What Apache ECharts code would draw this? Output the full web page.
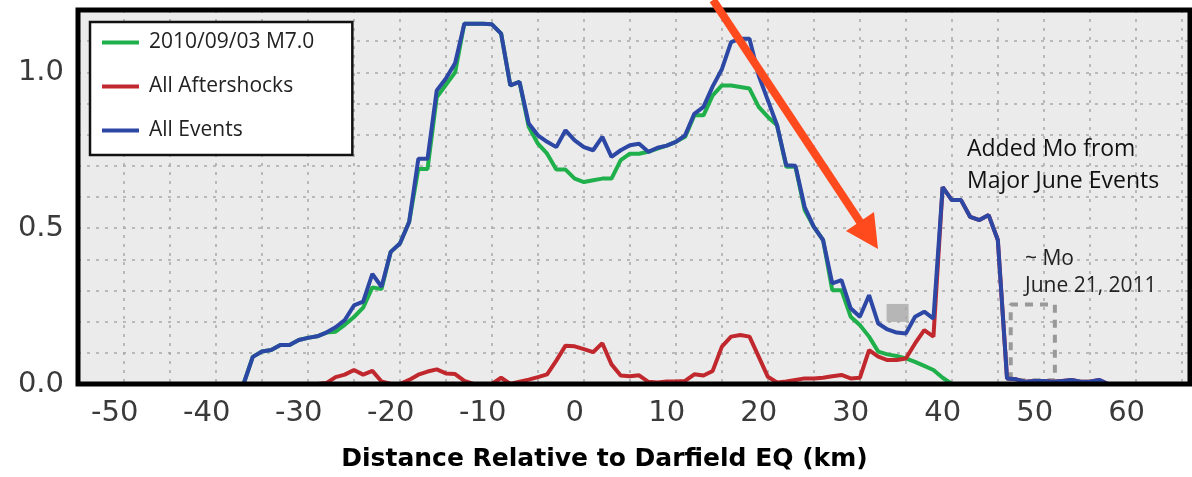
<!DOCTYPE html>
<html>
<head>
<meta charset="utf-8">
<style>
  html, body { margin: 0; padding: 0; background: #fff; }
  #chart { width: 1192px; height: 477px; }
</style>
<script src="https://cdn.jsdelivr.net/npm/echarts@6/dist/echarts.min.js"></script>
</head>
<body>
<div id="chart"></div>
<script>
// distance along strike (km), 1 km steps
var distance = [-40,-39,-38,-37,-36,-35,-34,-33,-32,-31,-30,-29,-28,-27,-26,-25,-24,-23,-22,-21,
  -20,-19,-18,-17,-16,-15,-14,-13,-12,-11,-10,-9,-8,-7,-6,-5,-4,-3,-2,-1,
  0,1,2,3,4,5,6,7,8,9,10,11,12,13,14,15,16,17,18,19,
  20,21,22,23,24,25,26,27,28,29,30,31,32,33,34,35,36,37,38,39,
  40,41,42,43,44,45,46,47,48,49,50,51,52,53,54,55,56,57,58];

var mainShock = [null,null,null,null,0,0.087,0.104,0.109,0.125,0.125,0.141,0.148,0.153,0.165,0.168,0.19,0.215,0.245,0.31,0.305,
  0.424,0.451,0.52,0.69,0.69,0.92,0.96,1.0,1.156,1.156,1.156,1.154,1.124,0.958,0.969,0.825,0.771,0.739,0.688,0.688,
  0.659,0.648,0.654,0.659,0.659,0.718,0.739,0.739,0.745,0.755,0.765,0.777,0.793,0.862,0.862,0.926,0.958,0.958,0.953,0.948,
  0.889,0.857,0.83,0.697,0.697,0.558,0.504,0.462,0.301,0.301,0.216,0.189,0.152,0.104,0.095,0.09,0.082,0.071,0.058,0.045,
  0.02,0,null,null,null,null,null,null,null,null,null,null,null,null,null,null,null,null,null];

var aftershocks = [null,null,null,null,null,null,null,null,null,null,null,null,0,0.003,0.022,0.03,0.045,0.03,0.042,0.008,
  0,0,0.013,0.03,0.04,0.047,0.034,0.032,0.01,0,0,0,0.02,0,0.007,0.014,0.022,0.031,0.075,0.123,
  0.121,0.112,0.102,0.131,0.063,0.027,0.025,0.028,0.007,0.005,0.008,0.008,0.01,0.031,0.027,0.042,0.12,0.152,0.157,0.152,
  0.088,0.023,0.005,0.008,0.013,0.018,0.018,0.02,0.025,0.029,0.018,0.02,0.109,0.088,0.077,0.077,0.082,0.13,0.173,0.152,
  0.632,0.59,0.59,0.536,0.526,0.542,0.462,0.018,0.015,0.007,0.01,0.01,0.007,0.01,0.013,0.007,0.007,0.013,0];

var allEvents = [null,null,null,null,0,0.087,0.104,0.109,0.125,0.125,0.141,0.148,0.153,0.165,0.182,0.205,0.252,0.264,0.353,0.312,
  0.424,0.451,0.52,0.723,0.723,0.942,0.98,1.03,1.156,1.156,1.156,1.154,1.124,0.958,0.969,0.836,0.798,0.777,0.76,0.814,
  0.782,0.76,0.75,0.793,0.729,0.75,0.766,0.771,0.745,0.758,0.765,0.777,0.798,0.867,0.889,0.955,1.01,1.097,1.108,1.108,
  0.99,0.91,0.83,0.702,0.70,0.568,0.504,0.462,0.323,0.333,0.243,0.216,0.285,0.194,0.175,0.165,0.162,0.216,0.232,0.21,
  0.632,0.59,0.59,0.536,0.526,0.542,0.462,0.018,0.015,0.007,0.01,0.01,0.007,0.01,0.013,0.007,0.007,0.013,0];

// ~Mo of June 21, 2011 (dashed box)
var moX = [47.4, 47.4, 52.2, 52.2, 47.4];
var moY = [0.012, 0.255, 0.255, 0.012, 0.012];

// grey marker
var markX = [35.1];
var markY = [0.228];

var xTickLabels = [-50,-40,-30,-20,-10,0,10,20,30,40,50,60];

function pairs(xs, ys) {
  return xs.map(function (x, i) { return [x, ys[i]]; });
}

var chart = echarts.init(document.getElementById('chart'));

var gridLine = { show: true, lineStyle: { color: '#a9a9a9', type: [3, 6], width: 1.5 } };

var option = {
  backgroundColor: '#ffffff',
  animation: false,
  grid: {
    left: 78, right: 1, top: 10, bottom: 93,
    show: true, backgroundColor: '#ebebeb', borderWidth: 0,
    containLabel: false
  },
  legend: {
    orient: 'vertical',
    left: 90, top: 22,
    backgroundColor: '#fff',
    borderColor: '#111', borderWidth: 2.5,
    padding: [10, 38, 14, 12],
    itemGap: 23,
    itemWidth: 37, itemHeight: 4,
    icon: 'rect',
    textStyle: { fontFamily: 'Open Sans', fontSize: 21, color: '#222', lineHeight: 21, padding: [0, 0, 0, 5] },
    data: ['2010/09/03 M7.0', 'All Aftershocks', 'All Events']
  },
  xAxis: [{
    type: 'value', min: -54, max: 67, interval: 5,
    axisLine: { show: false }, axisTick: { show: false }, axisLabel: { show: false },
    splitLine: gridLine
  }, {
    type: 'value', min: -54, max: 67, position: 'bottom',
    axisLine: { show: false }, axisTick: { show: false }, splitLine: { show: false },
    axisLabel: {
      customValues: xTickLabels, margin: 15,
      fontFamily: 'DejaVu Sans', fontSize: 29, color: '#3a3a3a'
    },
    name: 'Distance Relative to Darfield EQ (km)',
    nameLocation: 'middle', nameGap: 63,
    nameTextStyle: {
      fontFamily: 'DejaVu Sans', fontWeight: 'bold', fontSize: 25, color: '#000',
      padding: [0, 60, 0, 0]
    }
  }],
  yAxis: {
    type: 'value', min: 0, max: 1.2, interval: 0.1,
    axisLine: { show: false }, axisTick: { show: false },
    splitLine: gridLine,
    axisLabel: {
      margin: 14, fontFamily: 'DejaVu Sans', fontSize: 29, color: '#3a3a3a',
      formatter: function (v) {
        return Math.abs(v * 2 - Math.round(v * 2)) < 1e-6 ? v.toFixed(1) : '';
      }
    }
  },
  series: [{
    name: '2010/09/03 M7.0', type: 'line', showSymbol: false, connectNulls: false,
    color: '#1fb04c', lineStyle: { width: 4 },
    data: pairs(distance, mainShock), z: 3
  }, {
    name: 'All Aftershocks', type: 'line', showSymbol: false,
    color: '#c1282e', lineStyle: { width: 4 },
    data: pairs(distance, aftershocks), z: 4
  }, {
    name: 'All Events', type: 'line', showSymbol: false,
    color: '#2d47a5', lineStyle: { width: 4 },
    data: pairs(distance, allEvents), z: 5
  }, {
    name: 'Mo June 21', type: 'line', showSymbol: false,
    color: '#999', lineStyle: { width: 4, type: [8, 7] },
    data: pairs(moX, moY), z: 2
  }, {
    name: 'marker', type: 'scatter', symbol: 'rect', symbolSize: [22, 18],
    itemStyle: { color: '#a9a9a9' },
    data: pairs(markX, markY), z: 2
  }],
  graphic: [
    {
      // plot frame drawn over the curves
      type: 'rect', z: 90, silent: true,
      shape: { x: 78, y: 10, width: 1112, height: 374 },
      style: { fill: null, stroke: '#000', lineWidth: 5 }
    },
    {
      type: 'polyline', z: 100,
      shape: { points: [[713, 0], [864, 228]] },
      style: { stroke: '#ff4a1e', lineWidth: 8 }
    },
    {
      type: 'polygon', z: 100,
      shape: { points: [[878, 249], [846, 231], [874, 212]] },
      style: { fill: '#ff4a1e' }
    },
    {
      type: 'text', left: 967, top: 133, z: 100,
      style: { text: 'Added Mo from\nMajor June Events', fontFamily: 'Open Sans', fontSize: 23, lineHeight: 32, fill: '#111' }
    },
    {
      type: 'text', left: 1025, top: 246, z: 100,
      style: { text: '~ Mo\nJune 21, 2011', fontFamily: 'Open Sans', fontSize: 21, lineHeight: 27, fill: '#222' }
    }
  ]
};

chart.setOption(option);
</script>
</body>
</html>
